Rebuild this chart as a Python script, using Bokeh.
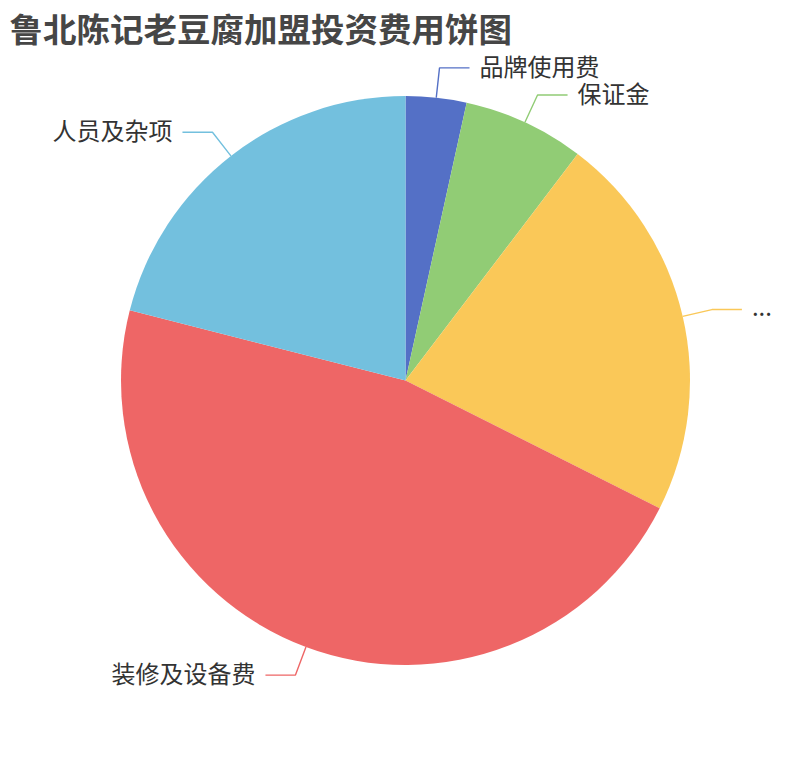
import numpy as np
from bokeh.plotting import figure
from bokeh.models import Range1d, Label, ColumnDataSource
from bokeh.core.properties import value
from bokeh.embed import file_html
from bokeh.resources import INLINE

title_text = "鲁北陈记老豆腐加盟投资费用饼图"
categories = ["品牌使用费", "保证金", "...", "装修及设备费", "人员及杂项"]
values = [1.0, 2.0, 6.4, 13.5, 6.1]
colors = ["#5470c6", "#91cc75", "#fac858", "#ee6666", "#73c0de"]

W, H = 794, 744
p = figure(width=W, height=H, x_range=Range1d(0, W), y_range=Range1d(0, H),
           output_backend="svg", toolbar_location=None, min_border=0,
           x_axis_type=None, y_axis_type=None)
p.grid.visible = False
p.outline_line_color = None
p.background_fill_color = "white"
p.border_fill_color = "white"

cx, cy, R = 405.0, H - 380.0, 284.5
L1, L2, GAP = 30.0, 30.0, 10.0

vals = np.array(values, dtype=float)
frac = vals / vals.sum()
cum = np.cumsum(frac)
prev = cum - frac
start = np.pi / 2 - 2 * np.pi * prev
end = np.pi / 2 - 2 * np.pi * cum
mid = (start + end) / 2

src = ColumnDataSource(dict(start=list(start), end=list(end), color=colors, name=categories))
p.wedge(x=cx, y=cy, radius=R, start_angle="start", end_angle="end", direction="clock",
        fill_color="color", line_color=None, source=src)

xs, ys = [], []
tl = dict(x=[], y=[], t=[])
tr = dict(x=[], y=[], t=[])
for m, name in zip(mid, categories):
    x0, y0 = cx + R * np.cos(m), cy + R * np.sin(m)
    x1, y1 = cx + (R + L1) * np.cos(m), cy + (R + L1) * np.sin(m)
    side = 1 if np.cos(m) >= 0 else -1
    x2 = x1 + side * L2
    xs.append([x0, x1, x2])
    ys.append([y0, y1, y1])
    d = tl if side > 0 else tr
    d["x"].append(x2 + side * GAP)
    d["y"].append(y1 + 2.5)
    d["t"].append(name)

p.multi_line(xs=xs, ys=ys, line_color=colors, line_width=1.4)

for d, align in ((tl, "left"), (tr, "right")):
    p.text(x=d["x"], y=d["y"], text=d["t"], text_align=align, text_baseline="middle",
           text_font=value("Noto Sans CJK SC"), text_font_size="24px", text_color="#333333")

p.add_layout(Label(x=9, y=H - 26.5, text=title_text, text_font="Noto Sans CJK SC",
                   text_font_size="33.5px", text_font_style="bold", text_baseline="middle",
                   text_color="#464646"))

open("out.html", "w").write(file_html(p, INLINE))
